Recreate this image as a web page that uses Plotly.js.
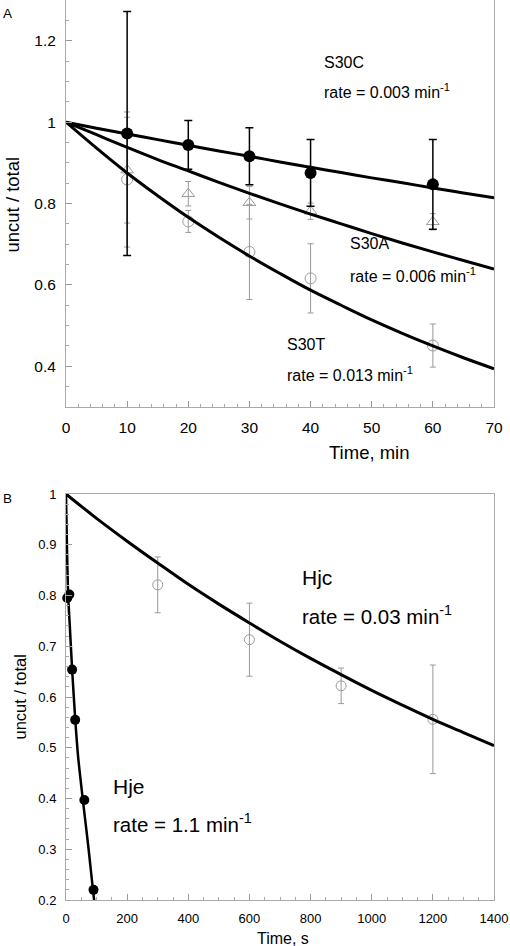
<!DOCTYPE html>
<html>
<head>
<meta charset="utf-8">
<script src="https://cdn.plot.ly/plotly-3.0.1.min.js"></script>
<style>html,body{margin:0;padding:0;background:#fff;}#chart{width:510px;height:946px;}</style>
</head>
<body>
<div id="chart"></div>
<script>
// ---------- Panel A data (Time, min) ----------
const timeA = [10, 20, 30, 40, 60];
const s30cY = [0.972, 0.944, 0.916, 0.875, 0.847];
const s30cErr = [0.30, 0.06, 0.07, 0.082, 0.11];
const s30aY = [0.882, 0.824, 0.802, 0.781, 0.755];
const s30aErr = [0.13, 0.03, 0.04, 0.02, 0.02];
const s30tY = [0.859, 0.756, 0.681, 0.616, 0.451];
const s30tErr = [0.166, 0.027, 0.117, 0.085, 0.053];
// fitted curves
const fitTimeA = [0, 5, 10, 15, 20, 25, 30, 35, 40, 45, 50, 55, 60, 65, 70];
const s30cFit = [1, 0.985, 0.971, 0.957, 0.943, 0.929, 0.916, 0.902, 0.889, 0.876, 0.863, 0.851, 0.838, 0.826, 0.814];
const s30aFit = [1, 0.969, 0.938, 0.908, 0.880, 0.852, 0.825, 0.799, 0.774, 0.750, 0.726, 0.703, 0.681, 0.660, 0.639];
const s30tFit = [1, 0.936, 0.875, 0.819, 0.766, 0.717, 0.671, 0.628, 0.587, 0.550, 0.514, 0.481, 0.450, 0.421, 0.394];

// ---------- Panel B data (Time, s) ----------
const hjcTime = [300, 600, 900, 1200];
const hjcY = [0.821, 0.713, 0.622, 0.556];
const hjcErr = [0.055, 0.072, 0.035, 0.107];
const hjeTime = [4, 11, 20, 30, 60, 90];
const hjeY = [0.795, 0.802, 0.654, 0.555, 0.397, 0.22];
const hjcFitTime = [0, 100, 200, 300, 400, 500, 600, 700, 800, 900, 1000, 1100, 1200, 1300, 1400];
const hjcFit = [1, 0.952, 0.907, 0.864, 0.822, 0.783, 0.746, 0.710, 0.676, 0.644, 0.613, 0.584, 0.556, 0.530, 0.504];
const hjeFitTime = [0, 3, 7, 12, 20, 30, 40, 55, 74, 90, 95];
const hjeFit = [1, 0.90, 0.80, 0.745, 0.655, 0.558, 0.48, 0.398, 0.30, 0.21, 0.185];

// ---------- labels ----------
const panelLabels = ["A", "B"];
const xTitles = ["Time, min", "Time, s"];
const yTitle = "uncut / total";

const FONT = "Liberation Sans, Arial, Helvetica, sans-serif";
const GRAY = "#9a9a9a";
const L = 66, R = 16, T = 0, B = 46, W = 510, H = 946;
const PW = W - L - R, PH = H - T - B;
const px = p => (p - L) / PW;
const py = p => (PH + T - p) / PH;

const traces = [
  // Panel A gray series (under curves)
  {x: timeA, y: s30tY, type: "scatter", mode: "markers", xaxis: "x", yaxis: "y",
   marker: {symbol: "circle-open", size: 11, color: GRAY, line: {width: 1, color: GRAY}},
   error_y: {type: "data", array: s30tErr, visible: true, color: GRAY, thickness: 1, width: 3}},
  {x: timeA, y: s30aY, type: "scatter", mode: "markers", xaxis: "x", yaxis: "y",
   marker: {symbol: "triangle-up-open", size: 11, color: GRAY, line: {width: 1, color: GRAY}},
   error_y: {type: "data", array: s30aErr, visible: true, color: GRAY, thickness: 1, width: 3}},
  // curves A
  {x: fitTimeA, y: s30cFit, type: "scatter", mode: "lines", xaxis: "x", yaxis: "y",
   line: {color: "#000", width: 3, shape: "spline"}},
  {x: fitTimeA, y: s30aFit, type: "scatter", mode: "lines", xaxis: "x", yaxis: "y",
   line: {color: "#000", width: 3, shape: "spline"}},
  {x: fitTimeA, y: s30tFit, type: "scatter", mode: "lines", xaxis: "x", yaxis: "y",
   line: {color: "#000", width: 3, shape: "spline"}},
  // S30C black
  {x: timeA, y: s30cY, type: "scatter", mode: "markers", xaxis: "x", yaxis: "y",
   marker: {symbol: "circle", size: 12, color: "#000"},
   error_y: {type: "data", array: s30cErr, visible: true, color: "#000", thickness: 1.5, width: 4}},

  // Panel B
  {x: hjcTime, y: hjcY, type: "scatter", mode: "markers", xaxis: "x2", yaxis: "y2",
   marker: {symbol: "circle-open", size: 10, color: GRAY, line: {width: 1, color: GRAY}},
   error_y: {type: "data", array: hjcErr, visible: true, color: GRAY, thickness: 1, width: 3}},
  {x: hjcFitTime, y: hjcFit, type: "scatter", mode: "lines", xaxis: "x2", yaxis: "y2",
   line: {color: "#000", width: 3, shape: "spline"}},
  {x: hjeFitTime, y: hjeFit, type: "scatter", mode: "lines", xaxis: "x2", yaxis: "y2",
   line: {color: "#000", width: 2.5, shape: "spline", smoothing: 0.6}},
  {x: hjeTime, y: hjeY, type: "scatter", mode: "markers", xaxis: "x2", yaxis: "y2", cliponaxis: false,
   marker: {symbol: "circle", size: 10, color: "#000"}}
];

const axBase = {
  showgrid: false, zeroline: false, showline: true, linecolor: "#aaaaaa", linewidth: 1, mirror: true,
  ticks: "inside", tickcolor: "#999", tickwidth: 1, ticklen: 6, ticklabelstandoff: 6,
  tickfont: {family: FONT, color: "#000"}
};
const minor = d => ({dtick: d, ticks: "inside", ticklen: 3, tickcolor: "#aaa", tickwidth: 1, showgrid: false});

const txt = (x, y, text, size, extra) => Object.assign({
  xref: "paper", yref: "paper", x: px(x), y: py(y), text: text, showarrow: false,
  xanchor: "left", yanchor: "middle", font: {family: FONT, size: size, color: "#000"}
}, extra || {});

const layout = {
  width: W, height: H, margin: {l: L, r: R, t: T, b: B}, showlegend: false,
  paper_bgcolor: "#fff", plot_bgcolor: "#fff", font: {family: FONT, color: "#000"},
  xaxis: Object.assign({}, axBase, {domain: [0, 1], anchor: "y", range: [0, 70], tick0: 0, dtick: 10,
    minor: minor(2), tickfont: {family: FONT, size: 15.5, color: "#000"}}),
  yaxis: Object.assign({}, axBase, {domain: [(PH - 407) / PH, 1], anchor: "x", range: [0.3, 1.3], tick0: 0.4, dtick: 0.2,
    minor: minor(0.05), tickfont: {family: FONT, size: 15.5, color: "#000"}}),
  xaxis2: Object.assign({}, axBase, {domain: [0, 1], anchor: "y2", range: [0, 1400], tick0: 0, dtick: 200,
    minor: minor(50), tickfont: {family: FONT, size: 13, color: "#000"}}),
  yaxis2: Object.assign({}, axBase, {domain: [0, (PH - 494) / PH], anchor: "x2", range: [0.2, 1], tick0: 0.2, dtick: 0.1,
    minor: minor(0.02), tickfont: {family: FONT, size: 13, color: "#000"}}),
  annotations: [
    txt(7.5, 13, panelLabels[0], 13.5, {xanchor: "center"}),
    txt(7, 498, panelLabels[1], 13.5, {xanchor: "center"}),
    txt(12.5, 205, yTitle, 18.5, {xanchor: "center", textangle: -90}),
    txt(369, 452, xTitles[0], 18.5, {xanchor: "center"}),
    txt(19.5, 697, yTitle, 16.5, {xanchor: "center", textangle: -90}),
    txt(282.5, 938, xTitles[1], 16, {xanchor: "center"}),
    txt(322, 62, "S30C", 16),
    txt(322, 91, "rate = 0.003 min<sup>-1</sup>", 16),
    txt(348, 244, "S30A", 16),
    txt(348, 275, "rate = 0.006 min<sup>-1</sup>", 16),
    txt(285, 344, "S30T", 16),
    txt(285, 374, "rate = 0.013 min<sup>-1</sup>", 16),
    txt(300, 577, "Hjc", 21),
    txt(300, 615, "rate = 0.03 min<sup>-1</sup>", 20.5),
    txt(111, 786, "Hje", 21),
    txt(111, 823, "rate = 1.1 min<sup>-1</sup>", 20.5)
  ]
};

Plotly.newPlot("chart", traces, layout, {displayModeBar: false, staticPlot: true});
</script>
</body>
</html>
